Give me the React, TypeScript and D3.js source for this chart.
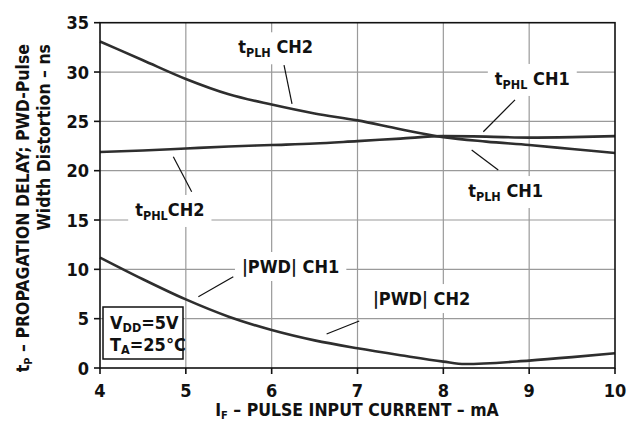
import React, { useEffect, useRef } from "react";
import * as d3 from "d3";

const xTicks = [4, 5, 6, 7, 8, 9, 10];
const yTicks = [0, 5, 10, 15, 20, 25, 30, 35];

const tplhX = [4, 4.5, 5, 5.5, 6, 6.5, 7, 7.5, 8, 8.5, 9, 9.5, 10];
const tplhY = [33.1, 31.2, 29.3, 27.75, 26.7, 25.8, 25.1, 24.2, 23.4, 22.95, 22.6, 22.2, 21.8];

const tphlX = [4, 4.5, 5, 5.5, 6, 6.5, 7, 7.5, 8, 8.5, 9, 9.5, 10];
const tphlY = [21.9, 22.05, 22.25, 22.45, 22.6, 22.75, 23.0, 23.25, 23.5, 23.45, 23.35, 23.4, 23.5];

const pwdX = [4, 4.5, 5, 5.5, 6, 6.5, 7, 7.5, 8, 8.25, 9, 9.5, 10];
const pwdY = [11.2, 9.0, 6.95, 5.2, 3.85, 2.8, 2.0, 1.3, 0.65, 0.4, 0.75, 1.1, 1.5];

// annotations: [main, sub, rest, textX, textY, leaderX1, leaderY1, leaderX2, leaderY2]
const labelMain = ["t", "t", "t", "t", "|PWD| CH1", "|PWD| CH2"];
const labelSub = ["PLH", "PHL", "PLH", "PHL", "", ""];
const labelRest = [" CH2", " CH1", " CH1", "CH2", "", ""];
const labelX = [5.61, 8.6, 8.29, 4.41, 5.654, 7.18];
const labelY = [31.9, 28.69, 17.33, 15.41, 9.63, 6.38];
const leadX1 = [6.144, 8.835, 8.33, 4.854, 5.553, 7.02];
const leadY1 = [30.71, 27.17, 22.1, 21.42, 9.25, 4.77];
const leadX2 = [6.237, 8.466, 8.64, 5.068, 5.146, 6.64];
const leadY2 = [26.76, 23.95, 20.07, 17.87, 7.22, 3.45];

const FONT = "'Liberation Sans Narrow', 'DejaVu Sans Condensed', 'Arial Narrow', sans-serif";

export default function App() {
  const ref = useRef<SVGSVGElement>(null);
  useEffect(() => {
    const W = 637, H = 429;
    const svg = d3.select(ref.current);
    svg.selectAll("*").remove();
    const left = 100, right = 615, top = 22.7, bottom = 368;
    const x = d3.scaleLinear().domain([4, 10]).range([left, right]);
    const y = d3.scaleLinear().domain([0, 35]).range([bottom, top]);

    svg.append("rect").attr("width", W).attr("height", H).attr("fill", "#fff");

    const g = svg.append("g");
    // grid
    g.selectAll(".gx").data(xTicks.slice(1, -1)).enter().append("line")
      .attr("x1", (d) => x(d)).attr("x2", (d) => x(d)).attr("y1", top).attr("y2", bottom)
      .attr("stroke", "#9a9a9a").attr("stroke-width", 1.2);
    g.selectAll(".gy").data(yTicks.slice(1, -1)).enter().append("line")
      .attr("y1", (d) => y(d)).attr("y2", (d) => y(d)).attr("x1", left).attr("x2", right)
      .attr("stroke", "#9a9a9a").attr("stroke-width", 1.2);

    // curves
    const line = d3.line<[number, number]>().x((d) => x(d[0])).y((d) => y(d[1])).curve(d3.curveMonotoneX);
    const series: [number[], number[]][] = [[tplhX, tplhY], [tphlX, tphlY], [pwdX, pwdY]];
    series.forEach(([xs, ys]) => {
      g.append("path").attr("d", line(xs.map((v, i) => [v, ys[i]] as [number, number])) as string)
        .attr("fill", "none").attr("stroke", "#2e2e2e").attr("stroke-width", 2.6).attr("stroke-linejoin", "round");
    });

    // frame
    g.append("rect").attr("x", left).attr("y", top).attr("width", right - left).attr("height", bottom - top)
      .attr("fill", "none").attr("stroke", "#111").attr("stroke-width", 1.6);

    // ticks
    g.selectAll(".tx").data(xTicks).enter().append("line")
      .attr("x1", (d) => x(d)).attr("x2", (d) => x(d)).attr("y1", bottom).attr("y2", bottom + 6)
      .attr("stroke", "#111").attr("stroke-width", 1.6);
    g.selectAll(".ty").data(yTicks).enter().append("line")
      .attr("y1", (d) => y(d)).attr("y2", (d) => y(d)).attr("x1", left - 6).attr("x2", left)
      .attr("stroke", "#111").attr("stroke-width", 1.6);

    const txt = (sel: any) => sel.attr("font-family", FONT).attr("font-weight", "bold").attr("fill", "#111");

    g.selectAll(".lx").data(xTicks).enter().append("text").call(txt)
      .attr("x", (d) => x(d)).attr("y", bottom + 29).attr("text-anchor", "middle").attr("font-size", 18)
      .text((d) => String(d));
    g.selectAll(".ly").data(yTicks).enter().append("text").call(txt)
      .attr("x", left - 11).attr("y", (d) => y(d) + 6.5).attr("text-anchor", "end").attr("font-size", 18)
      .text((d) => String(d));

    // axis titles
    const xt = g.append("text").call(txt).attr("x", 357).attr("y", 416).attr("text-anchor", "middle").attr("font-size", 17.5);
    xt.append("tspan").text("I");
    xt.append("tspan").attr("font-size", 11).attr("dy", 3).text("F");
    xt.append("tspan").attr("dy", -3).text(" – PULSE INPUT CURRENT – mA");

    const yt1 = g.append("text").call(txt).attr("transform", "translate(29,44) rotate(-90)").attr("text-anchor", "end").attr("font-size", 17.5);
    yt1.append("tspan").text("t");
    yt1.append("tspan").attr("font-size", 11).attr("dy", 3).text("P");
    yt1.append("tspan").attr("dy", -3).text(" – PROPAGATION DELAY; PWD-Pulse");
    g.append("text").call(txt).attr("transform", "translate(50,44) rotate(-90)").attr("text-anchor", "end").attr("font-size", 17.5)
      .text("Width Distortion – ns");

    // annotations
    labelMain.forEach((m, i) => {
      g.append("line").attr("x1", x(leadX1[i])).attr("y1", y(leadY1[i])).attr("x2", x(leadX2[i])).attr("y2", y(leadY2[i]))
        .attr("stroke", "#111").attr("stroke-width", 1.2);
      const bg = g.append("rect").attr("fill", "#fff");
      const t = g.append("text").call(txt).attr("x", x(labelX[i])).attr("y", y(labelY[i])).attr("font-size", 18);
      t.append("tspan").text(m);
      if (labelSub[i]) {
        t.append("tspan").attr("font-size", 12.5).attr("dy", 4).text(labelSub[i]);
        t.append("tspan").attr("dy", -4).text(labelRest[i]);
      }
      const bb = (t.node() as SVGTextElement).getBBox();
      bg.attr("x", bb.x - 7).attr("y", bb.y - 4).attr("width", bb.width + 14).attr("height", bb.height + 8);
    });

    // condition box
    const bx = left + 3, by = y(0) - 61;
    g.append("rect").attr("x", bx).attr("y", by).attr("width", 80).attr("height", 52)
      .attr("fill", "#fff").attr("stroke", "#111").attr("stroke-width", 1.5);
    const c1 = g.append("text").call(txt).attr("x", bx + 7).attr("y", by + 22).attr("font-size", 18);
    c1.append("tspan").text("V");
    c1.append("tspan").attr("font-size", 12.5).attr("dy", 3).text("DD");
    c1.append("tspan").attr("dy", -3).text("=5V");
    const c2 = g.append("text").call(txt).attr("x", bx + 7).attr("y", by + 44).attr("font-size", 18);
    c2.append("tspan").text("T");
    c2.append("tspan").attr("font-size", 12.5).attr("dy", 3).text("A");
    c2.append("tspan").attr("dy", -3).text("=25°C");
  }, []);
  return (
    <svg ref={ref} width={637} height={429} style={{ position: "absolute", left: 0, top: 0 }} />
  );
}
